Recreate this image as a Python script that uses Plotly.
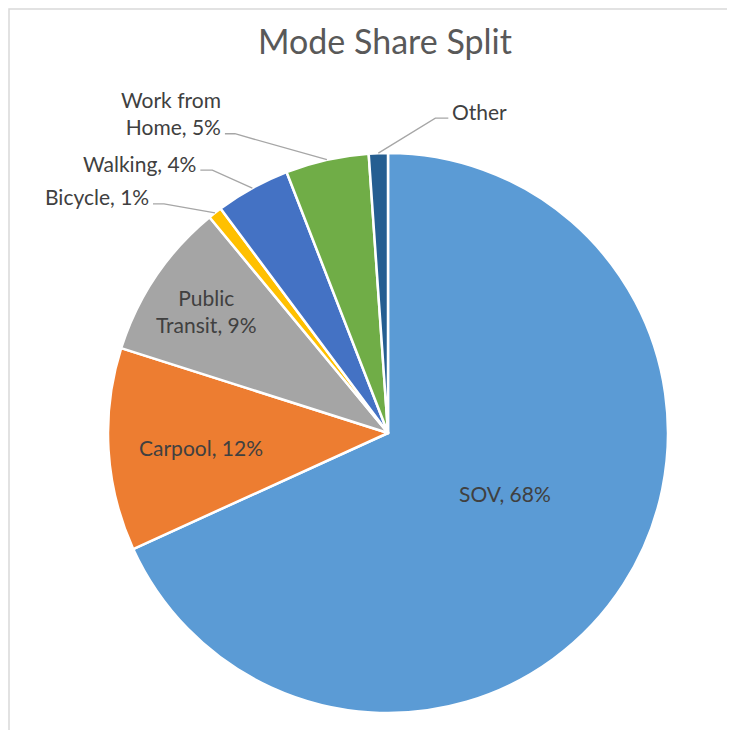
import numpy as np
import plotly.graph_objects as go

# commute mode split, clockwise from 12 o'clock
modes = ["SOV", "Carpool", "Public Transit", "Bicycle", "Walking", "Work from Home", "Other"]
shares = [68.2, 11.7, 9.1, 0.8, 4.3, 4.8, 1.1]
colors = ["#5B9BD5", "#ED7D31", "#A5A5A5", "#FFC000", "#4472C4", "#70AD47", "#255E91"]
wrapped = {"Public Transit": "Public<br>Transit", "Work from Home": "Work from<br>Home"}
no_pct = ["Other"]

# page / pie geometry in screen pixels (page body has an 8px margin)
W, H = 735, 730
OFF = 8
cx, cy, R = 388, 433, 280
FONT = "Lato"
FS = 21
TXT = "#404040"

# inside labels: (fraction of radius from centre, angle nudge in degrees)
inside_r = {"SOV": (0.47, -5.5), "Carpool": (0.67, -1), "Public Transit": (0.78, 0)}
# outside labels: elbow offset from slice edge (dx, dy) and horizontal tail length
outside = {"Bicycle": (-51, -9, -11), "Walking": (-40, -18, -12),
           "Work from Home": (-92, -26, -10), "Other": (57, -35, 13)}


def px(x):
    return (x - OFF) / W


def py(y):
    return 1 - (y - OFF) / H


def label(m, s):
    name = wrapped.get(m, m)
    return name if m in no_pct else f"{name}, {round(s)}%"


fig = go.Figure(go.Pie(
    labels=modes, values=shares, sort=False, direction="clockwise", rotation=0,
    marker=dict(colors=colors, line=dict(color="white", width=2.5)),
    textinfo="none", hoverinfo="label+percent", showlegend=False,
    domain=dict(x=[px(cx - R), px(cx + R)], y=[py(cy + R), py(cy - R)]),
))

annotations = []
shapes = []
frac = np.array(shares) / sum(shares)
mids = np.cumsum(frac) - frac / 2
for m, s, f in zip(modes, shares, mids):
    th = 2 * np.pi * f
    ux, uy = np.sin(th), -np.cos(th)
    text = label(m, s)
    if m in inside_r:
        rf, nudge = inside_r[m]
        t2 = th + np.radians(nudge)
        r = rf * R
        annotations.append(dict(x=px(cx + r * np.sin(t2)), y=py(cy - r * np.cos(t2)), text=text,
                                showarrow=False, xref="paper", yref="paper",
                                xanchor="center", yanchor="middle",
                                font=dict(family=FONT, size=FS, color=TXT)))
    else:
        dx, dy, h = outside[m]
        x0, y0 = cx + R * ux, cy + R * uy
        x1, y1 = x0 + dx, y0 + dy
        x2 = x1 + h
        shapes.append(dict(type="path", xref="paper", yref="paper",
                           path=f"M {px(x0)},{py(y0)} L {px(x1)},{py(y1)} L {px(x2)},{py(y1)}",
                           line=dict(color="#A6A6A6", width=1.3)))
        nlines = text.count("<br>") + 1
        ty = y1 - 7 - (nlines - 1) * 14
        annotations.append(dict(x=px(x2 + (2 if h > 0 else -2)), y=py(ty), text=text,
                                showarrow=False, xref="paper", yref="paper",
                                xanchor="left" if h > 0 else "right", yanchor="middle",
                                align="left" if h > 0 else "right",
                                font=dict(family=FONT, size=FS, color=TXT)))

# chart frame (only top and left edges visible)
shapes.append(dict(type="rect", xref="paper", yref="paper",
                   x0=px(9), y0=-0.05, x1=1.05, y1=py(9),
                   line=dict(color="#D9D9D9", width=1.5)))

annotations.append(dict(x=px(385), y=py(41), text="Mode Share Split", showarrow=False,
                        xref="paper", yref="paper", xanchor="center", yanchor="middle",
                        font=dict(family=FONT, size=34, color="#595959")))

fig.update_layout(
    width=W, height=H,
    margin=dict(l=0, r=0, t=0, b=0),
    paper_bgcolor="white", plot_bgcolor="white",
    annotations=annotations, shapes=shapes,
)

fig.write_html("out.html")
